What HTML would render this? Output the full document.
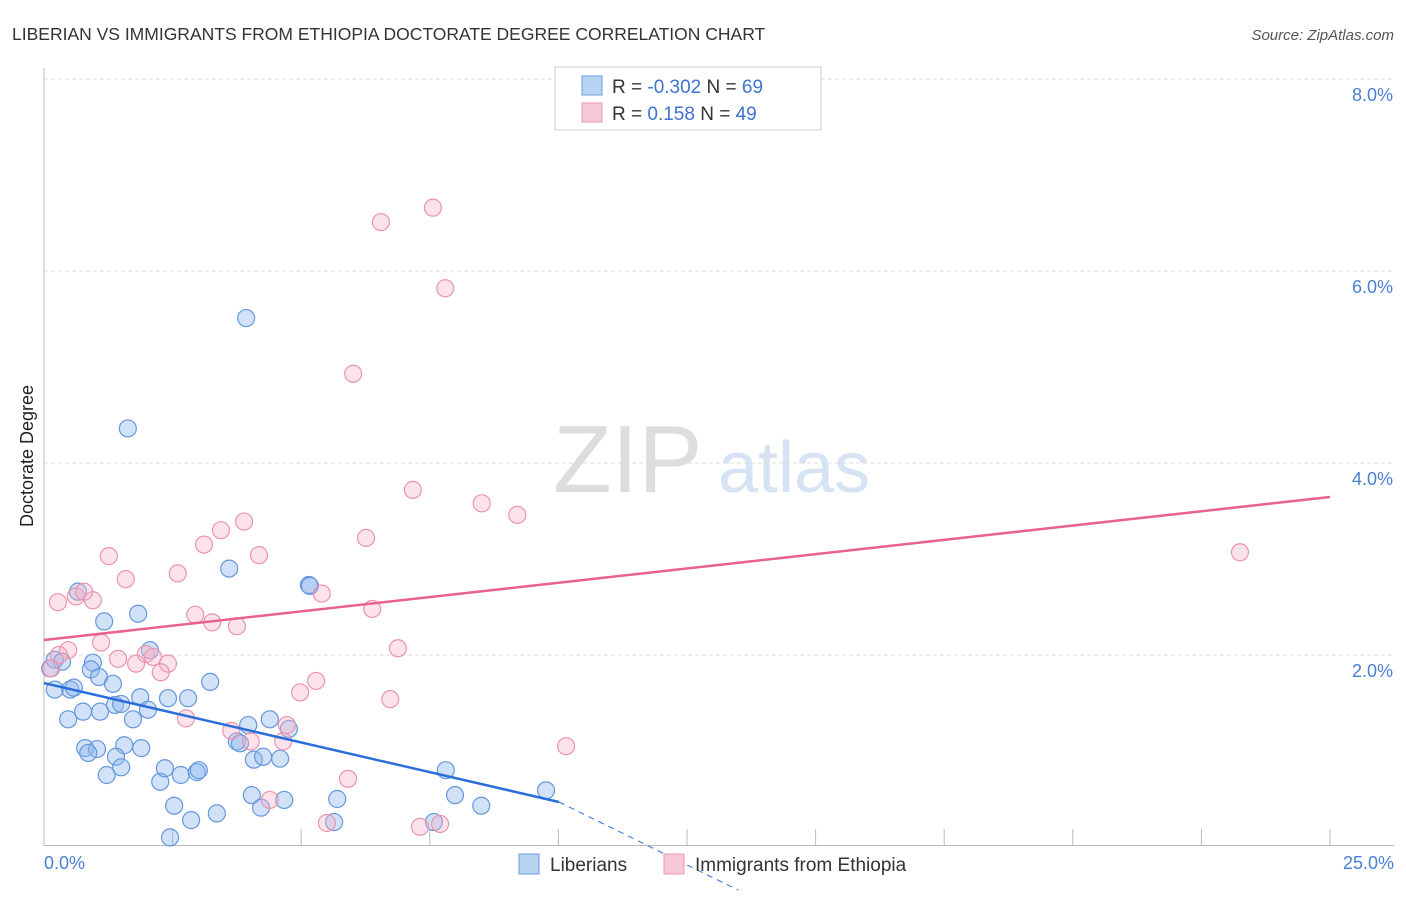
<!DOCTYPE html>
<html><head><meta charset="utf-8"><style>
body{margin:0;background:#fff;font-family:"Liberation Sans",sans-serif;}
svg text{font-family:"Liberation Sans",sans-serif;}
</style></head><body>
<svg width="1406" height="892" xmlns="http://www.w3.org/2000/svg">
<text x="12" y="40" font-size="17.5" fill="#333">LIBERIAN VS IMMIGRANTS FROM ETHIOPIA DOCTORATE DEGREE CORRELATION CHART</text>
<text x="1394" y="40" font-size="15" fill="#555" font-style="italic" text-anchor="end">Source: ZipAtlas.com</text>
<g>
<text x="553" y="492" font-size="96" fill="#ddd" font-family="Liberation Serif,serif">ZIP</text>
<text x="718" y="492" font-size="72" fill="#d5e3f5">atlas</text>
</g>
<g id="grid"></g>
<line x1="44" y1="68" x2="44" y2="846" stroke="#bbb"/>
<line x1="44" y1="845.5" x2="1394" y2="845.5" stroke="#bbb"/>
<g id="xticks"></g>
<text x="44" y="869" font-size="18" fill="#4a7fd4">0.0%</text>
<text x="1394" y="869" font-size="18" fill="#4a7fd4" text-anchor="end">25.0%</text>
<text transform="translate(33,456) rotate(-90)" font-size="18" fill="#222" text-anchor="middle">Doctorate Degree</text>
<g id="pts"></g>
<g id="lines"></g>
<g>
<rect x="555" y="67" width="266" height="63" fill="#fff" stroke="#ccc"/>
<rect x="582" y="76" width="20" height="19" fill="#b9d3f3" stroke="#6d9be0"/>
<rect x="582" y="103" width="20" height="19" fill="#f9c8d7" stroke="#ec97b1"/>
<text x="612" y="93" font-size="19" fill="#333">R = <tspan fill="#3e74d0">-0.302</tspan>   N = <tspan fill="#3e74d0">69</tspan></text>
<text x="612" y="120" font-size="19" fill="#333">R =   <tspan fill="#3e74d0">0.158</tspan>   N = <tspan fill="#3e74d0">49</tspan></text>
</g>
<g>
<rect x="519" y="854" width="20" height="20" fill="#b9d3f3" stroke="#6d9be0"/>
<text x="550" y="871" font-size="19" fill="#333">Liberians</text></g>
<g>
<rect x="664" y="854" width="20" height="20" fill="#f9c8d7" stroke="#ec97b1"/>
<text x="695" y="871" font-size="19" fill="#333">Immigrants from Ethiopia</text></g>
</svg>
<script>
const yTicks=[2,4,6,8];
const yTickLabels=["2.0%","4.0%","6.0%","8.0%"];
const xTicks=[2.5,5,7.5,10,12.5,15,17.5,20,22.5,25];
const blueX=[3.93,1.63,3.60,5.15,5.17,1.83,1.17,0.66,2.06,0.21,0.35,0.12,0.95,0.91,0.21,0.51,0.58,1.07,1.34,3.23,0.47,0.76,1.09,1.38,1.50,1.87,2.02,1.73,2.41,2.80,0.80,1.03,0.86,1.56,1.89,1.40,1.22,1.50,2.26,2.35,2.66,2.97,3.01,3.97,4.39,4.76,3.75,3.81,4.08,4.26,4.59,4.04,4.22,4.67,5.70,5.64,2.53,2.86,3.36,2.45,7.81,7.99,8.50,7.58,9.76];
const blueY=[5.51,4.36,2.90,2.73,2.72,2.43,2.35,2.66,2.05,1.95,1.93,1.86,1.92,1.85,1.64,1.64,1.66,1.77,1.70,1.72,1.33,1.41,1.41,1.48,1.49,1.56,1.43,1.33,1.55,1.55,1.03,1.02,0.98,1.06,1.03,0.94,0.75,0.83,0.68,0.82,0.75,0.78,0.80,1.27,1.33,1.23,1.10,1.08,0.91,0.94,0.92,0.54,0.41,0.49,0.50,0.26,0.43,0.28,0.35,0.10,0.80,0.54,0.43,0.26,0.59];
const pinkX=[7.56,6.55,7.80,6.01,7.17,8.51,9.20,6.26,3.89,3.44,3.11,4.18,1.26,2.60,1.59,5.40,6.38,2.94,3.27,3.75,0.27,0.62,0.95,0.78,1.11,0.47,0.29,1.98,2.12,2.41,1.79,2.27,1.44,6.88,4.98,5.29,6.73,2.76,3.64,4.02,4.65,4.72,5.91,10.15,4.39,5.50,7.31,7.70,23.25,0.14];
const pinkY=[6.66,6.51,5.82,4.93,3.72,3.58,3.46,3.22,3.39,3.30,3.15,3.04,3.03,2.85,2.79,2.64,2.48,2.42,2.34,2.30,2.55,2.61,2.57,2.66,2.13,2.05,2.00,2.01,1.98,1.91,1.91,1.82,1.96,2.07,1.61,1.73,1.54,1.34,1.21,1.10,1.10,1.27,0.71,1.05,0.49,0.25,0.21,0.24,3.07,1.86];
const blueTrend=[1.708,0.469,-0.45]; // y at x=0, x=10.01, x=13.5
const blueTrendX=[0,10.01,13.5];
const pinkTrend=[2.156,3.646];
const pinkTrendX=[0,25];
const NS="http://www.w3.org/2000/svg";
const sx=v=>44+v*51.44, sy=v=>847-v*96;
function mk(t,a,p){const e=document.createElementNS(NS,t);for(const k in a)e.setAttribute(k,a[k]);p.appendChild(e);return e;}
const grid=document.getElementById('grid');
yTicks.forEach((t,i)=>{
 const l=mk('line',{x1:44,x2:1394,y1:sy(t),y2:sy(t),stroke:'#ddd','stroke-dasharray':'4,3'},grid);
 
 
 const tx=mk('text',{x:1393,y:sy(t)+22,'font-size':18,fill:'#4a7fd4','text-anchor':'end'},grid);
 tx.textContent=yTickLabels[i];
 
 
});
mk('line',{x1:44,x2:1394,y1:79,y2:79,stroke:'#ddd','stroke-dasharray':'4,3'},grid);
const xt=document.getElementById('xticks');
xTicks.forEach(t=>{
 const l=mk('line',{x1:sx(t),x2:sx(t),y1:829,y2:845,stroke:'#bbb'},xt);
 
 
});
const pts=document.getElementById('pts');
blueX.forEach((x,i)=>{
 const c=mk('circle',{cx:sx(x),cy:sy(blueY[i]),r:8.5,fill:'rgba(140,182,238,0.4)',stroke:'#6497dd','stroke-width':1.2},pts);
 
 
});
pinkX.forEach((x,i)=>{
 const c=mk('circle',{cx:sx(x),cy:sy(pinkY[i]),r:8.5,fill:'rgba(246,176,198,0.35)',stroke:'#eb94ae','stroke-width':1.2},pts);
 
 
});
const ln=document.getElementById('lines');
const b1=mk('line',{x1:sx(blueTrendX[0]),y1:sy(blueTrend[0]),x2:sx(blueTrendX[1]),y2:sy(blueTrend[1]),stroke:'#2a6fd8','stroke-width':2.5},ln);


const b2=mk('line',{x1:sx(blueTrendX[1]),y1:sy(blueTrend[1]),x2:sx(blueTrendX[2]),y2:sy(blueTrend[2]),stroke:'#2a6fd8','stroke-width':1,'stroke-dasharray':'6,5'},ln);


const p1=mk('line',{x1:sx(pinkTrendX[0]),y1:sy(pinkTrend[0]),x2:sx(pinkTrendX[1]),y2:sy(pinkTrend[1]),stroke:'#e8628f','stroke-width':2.5},ln);


</script>
</body></html>
